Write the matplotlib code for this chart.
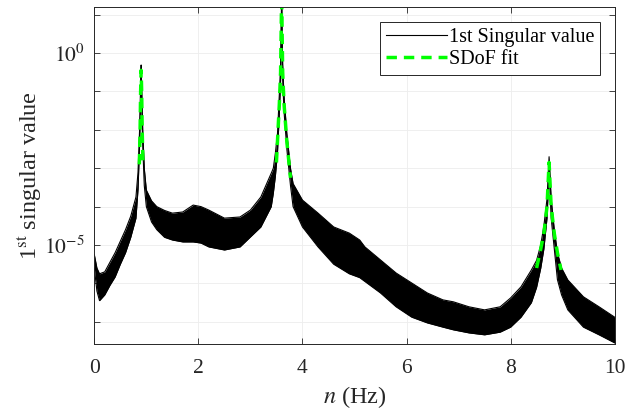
import numpy as np
import matplotlib
matplotlib.use('Agg')
import matplotlib.pyplot as plt
from matplotlib.ticker import FixedLocator, FuncFormatter

# ---- data (log10 of 1st singular value) ----
freq = [0.00, 0.05, 0.10, 0.20, 0.30, 0.40, 0.50, 0.60, 0.70, 0.80, 0.84, 0.87, 0.89, 0.90,
        0.91, 0.93, 0.96, 1.00, 1.10, 1.20, 1.35, 1.50, 1.70, 1.90, 2.05, 2.20, 2.50, 2.80,
        3.00, 3.20, 3.40, 3.44, 3.48, 3.52, 3.555, 3.58, 3.60, 3.62, 3.645, 3.70, 3.77, 3.82,
        4.00, 4.30, 4.60, 4.90, 5.10, 5.20, 5.50, 5.80, 6.10, 6.40, 6.70, 6.90, 7.20, 7.50,
        7.80, 8.00, 8.20, 8.40, 8.50, 8.58, 8.64, 8.70, 8.74, 8.78, 8.84, 8.90, 8.98, 9.10,
        9.40, 9.70, 10.00]
log_upper = [-5.25, -5.6, -5.75, -5.7, -5.45, -5.2, -4.9, -4.6, -4.25, -3.75, -3.1, -2.0, -0.8, -0.31,
             -0.9, -2.0, -3.0, -3.57, -3.85, -4.0, -4.1, -4.17, -4.14, -3.96, -4.0, -4.09, -4.3, -4.27,
             -4.09, -3.75, -3.13, -3.0, -2.6, -2.1, -1.1, -0.3, 1.5, -0.3, -1.1, -2.1, -3.0, -3.4,
             -3.83, -4.17, -4.53, -4.69, -4.87, -5.05, -5.39, -5.73, -5.99, -6.25, -6.43, -6.48, -6.61, -6.69,
             -6.61, -6.38, -6.09, -5.65, -5.4, -5.0, -4.5, -3.8, -2.7, -3.8, -4.6, -5.2, -5.6, -5.91,
             -6.35, -6.61, -6.88]
log_lower = [-5.6, -6.2, -6.45, -6.3, -6.05, -5.83, -5.5, -5.2, -4.8, -4.3, -3.55, -2.4, -1.2, -0.6,
             -1.3, -2.4, -3.45, -4.0, -4.4, -4.6, -4.8, -4.87, -4.92, -4.92, -4.95, -5.05, -5.13, -5.05,
             -4.79, -4.53, -4.0, -3.65, -3.2, -2.6, -1.6, -0.7, 1.2, -0.7, -1.5, -2.5, -3.45, -4.0,
             -4.53, -5.05, -5.5, -5.75, -5.85, -5.95, -6.25, -6.61, -6.88, -7.03, -7.14, -7.21, -7.29, -7.34,
             -7.27, -7.14, -6.88, -6.5, -6.1, -5.6, -5.1, -4.3, -3.1, -4.3, -5.1, -5.9, -6.3, -6.69,
             -7.14, -7.34, -7.55]

fit1_freq = [0.865, 0.88, 0.89, 0.90, 0.91, 0.92, 0.935]
fit1_log = [-2.9, -2.0, -1.0, -0.45, -1.0, -2.0, -2.9]
fit2_freq = [3.50, 3.52, 3.555, 3.58, 3.60, 3.62, 3.645, 3.70, 3.77]
fit2_log = [-2.85, -2.3, -1.35, -0.5, 1.5, -0.5, -1.3, -2.3, -3.25]
fit3_freq = [8.50, 8.58, 8.64, 8.70, 8.74, 8.78, 8.84, 8.90, 8.97]
fit3_log = [-5.6, -5.1, -4.7, -4.0, -2.85, -4.0, -4.7, -5.2, -5.65]

x_ticks = [0, 2, 4, 6, 8, 10]
y_decades = [-7, -6, -5, -4, -3, -2, -1, 0, 1]
y_labelled = [0, -5]

plt.rcParams['font.family'] = ['Liberation Serif', 'DejaVu Serif']
plt.rcParams['mathtext.fontset'] = 'stix'

fig = plt.figure(figsize=(6.33, 4.13), dpi=100)
ax = fig.add_axes([0.149, 0.167, 0.822, 0.816])

f = np.array(freq)
up = 10.0 ** np.array(log_upper)
lo = 10.0 ** np.array(log_lower)
ax.fill_between(f, up, lo, color='black', lw=0)
ax.plot(f, up, color='black', lw=0.8, label='1st Singular value')
ax.plot(f, lo, color='black', lw=0.8)

green = '#00ff00'
first = True
for fx, fy in [(fit1_freq, fit1_log), (fit2_freq, fit2_log), (fit3_freq, fit3_log)]:
    ax.plot(fx, 10.0 ** np.array(fy), color=green, lw=2.5, ls=(0, (3, 2)),
            label='SDoF fit' if first else None)
    first = False

ax.set_yscale('log')
ax.set_xlim(0, 10)
ax.set_ylim(10 ** -7.58, 10 ** 1.2)
ax.set_xticks(x_ticks)
ax.set_xticklabels([str(t) for t in x_ticks])
ax.yaxis.set_major_locator(FixedLocator([10.0 ** d for d in y_decades]))
ax.yaxis.set_minor_locator(FixedLocator([]))
ax.yaxis.set_major_formatter(FuncFormatter(
    lambda v, p: (r'$10^{%d}$' % int(round(np.log10(v)))) if int(round(np.log10(v))) in y_labelled else ''))

ax.tick_params(axis='both', which='both', direction='in', top=True, right=True,
               length=4, width=0.6, colors='#262626', labelsize=15.5, labelcolor='#262626')
ax.tick_params(axis='x', pad=11)
ax.tick_params(axis='y', pad=7)
ax.grid(True, color='#ededed', lw=0.6)
ax.set_axisbelow(True)
for s in ax.spines.values():
    s.set_color('#262626')
    s.set_linewidth(0.7)

ax.set_xlabel(r'$n$ (Hz)', fontsize=17.5, color='#262626', labelpad=4)
ax.set_ylabel(r'1$^{\mathrm{st}}$ singular value', fontsize=17.5, color='#262626', labelpad=0)

leg = ax.legend(loc='upper right', bbox_to_anchor=(0.972, 0.957), fontsize=14.5,
                frameon=True, fancybox=False, framealpha=1, edgecolor='#262626',
                handlelength=3.0, handletextpad=0.1, borderpad=0.3, labelspacing=0.15,
                borderaxespad=0)
leg.get_frame().set_linewidth(0.7)

fig.savefig('out.png', dpi=100, facecolor='white')
